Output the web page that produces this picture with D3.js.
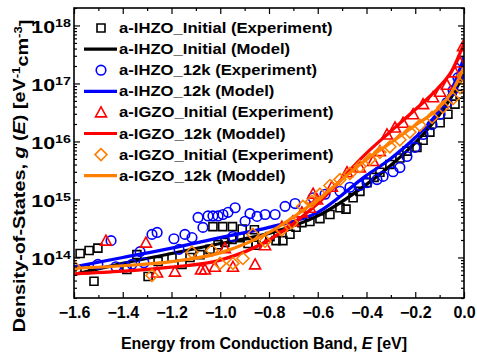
<!DOCTYPE html>
<html>
<head>
<meta charset="utf-8">
<script src="https://cdn.jsdelivr.net/npm/d3@7"></script>
<style>
  body { margin: 0; background: #fff; }
  svg { font-family: "Liberation Sans", Arial, sans-serif; font-weight: bold; }
</style>
</head>
<body>
<svg id="Chart"></svg>
<script>
// experimental points [E (eV), g (eV^-1 cm^-3)]
let ihzoInitialExp = [
  [-1.575,1.17e14],[-1.538,1.32e14],[-1.502,1.45e14],[-1.555,6.2e13],[-1.518,3.9e13],
  [-1.383,6.2e13],[-1.342,1.12e14],[-1.296,4.7e13],[-1.255,8.5e13],[-1.198,1.0e14],
  [-1.157,7.6e13],[-1.124,1.0e14],[-1.083,1.12e14],[-1.042,1.38e14],[-1.009,1.66e14],
  [-1.03,3.4e14],[-0.99,3.4e14],[-0.95,3.4e14],[-0.91,3.1e14],[-0.86,3.0e14],
  [-0.981,1.82e14],[-0.952,2.04e14],[-0.919,2.19e14],[-0.886,1.74e14],[-0.853,1.62e14],
  [-0.829,2.04e14],[-0.796,2.29e14],[-0.771,1.95e14],[-0.743,1.95e14],[-0.714,2.51e14],
  [-0.689,3.31e14],[-0.665,3.98e14],[-0.632,4.17e14],[-0.591,4.68e14],[-0.550,5.5e14],
  [-0.509,7.2e14],[-0.484,6.8e14],[-0.455,1.07e15],[-0.427,1.38e15],[-0.398,1.95e15],
  [-0.369,2.4e15],[-0.345,2.95e15],[-0.304,4.0e15],[-0.263,5.2e15],[-0.234,6.8e15],
  [-0.193,7.9e15],[-0.168,1.05e16],[-0.140,1.45e16],[-0.098,2.1e16],[-0.066,2.95e16],
  [-0.037,4.4e16],[-0.016,6.5e16]
]
let ihzo12kExp = [
  [-1.502,7.6e13],[-1.448,1.95e14],[-1.428,6.9e13],[-1.387,6.9e13],[-1.362,7.6e13],
  [-1.329,1.26e14],[-1.313,8.1e13],[-1.280,2.5e14],[-1.259,2.7e14],[-1.190,2.1e14],
  [-1.169,1.38e14],[-1.145,2.5e14],[-1.116,2.2e14],[-1.091,4.9e14],[-1.071,3.3e14],
  [-1.050,5.2e14],[-1.030,5.2e14],[-1.009,5.2e14],[-0.989,5.5e14],[-0.968,6.0e14],
  [-0.939,7.2e14],[-0.948,2.3e14],[-0.898,4.2e14],[-0.878,5.7e14],[-0.849,5.1e14],
  [-0.816,5.5e14],[-0.775,5.5e14],[-0.734,7.6e14],[-0.693,8.5e14],[-0.619,1.07e15],
  [-0.570,1.23e15],[-0.509,1.38e15],[-0.468,1.62e15],[-0.427,1.74e15],[-0.398,1.95e15],
  [-0.357,2.2e15],[-0.332,2.5e15],[-0.291,3.0e15],[-0.263,3.55e15],[-0.234,5.5e15],
  [-0.201,7.9e15],[-0.168,1.32e16],[-0.131,1.95e16],[-0.098,2.95e16],[-0.070,4.7e16],
  [-0.045,7.6e16],[-0.025,1.26e17],[-0.008,2.4e17]
]
let igzoInitialExp = [
  [-1.469,1.95e14],[-1.305,1.8e14],[-1.259,5.5e13],[-1.186,5.7e13],[-1.079,6.2e13],
  [-1.063,6.2e13],[-1.022,6.9e13],[-0.981,1.45e14],[-0.948,6.9e13],[-0.857,7.6e13],
  [-0.816,1.62e14],[-0.747,3.4e14],[-0.702,4.2e14],[-0.665,6.0e14],[-0.632,7.2e14],
  [-0.603,1.0e15],[-0.619,1.26e15],[-0.542,1.66e15],[-0.480,2.95e15],[-0.427,3.55e15],
  [-0.373,4.6e15],[-0.345,6.8e15],[-0.316,1.32e16],[-0.283,1.74e16],[-0.250,2.1e16],
  [-0.209,2.95e16],[-0.168,4.4e16],[-0.127,5.8e16],[-0.098,7.2e16],[-0.070,9.5e16],
  [-0.037,1.55e17],[-0.016,2.3e17],[-0.004,4.4e17]
]
let igzo12kExp = [
  [-1.600,6.9e13],[-1.280,4.9e13],[-1.116,1.23e14],[-1.034,1.32e14],[-1.001,7.9e13],
  [-0.948,7.9e13],[-0.907,9.6e13],[-0.866,2.5e14],[-0.816,1.9e14],[-0.747,3.0e14],
  [-0.706,4.0e14],[-0.661,7.6e14],[-0.624,9.3e14],[-0.591,1.23e15],[-0.550,1.74e15],
  [-0.509,2.2e15],[-0.468,2.8e15],[-0.427,3.7e15],[-0.386,4.9e15],[-0.345,6.5e15],
  [-0.304,8.1e15],[-0.263,1.07e16],[-0.222,1.45e16],[-0.181,1.9e16],[-0.131,2.6e16],
  [-0.086,3.9e16],[-0.045,5.5e16],[-0.016,8.5e16],[-0.004,1.38e17]
]

// model curves, sampled at modelE
let modelE = [-1.6, -1.4, -1.2, -1.0, -0.8, -0.6, -0.4, -0.3, -0.2, -0.1, -0.05, 0]
let ihzoInitialModel = [5.1e13, 7.9e13, 1.17e14, 1.74e14, 2.6e14, 5.2e14, 1.82e15, 3.9e15, 9.5e15, 2.95e16, 6.0e16, 1.45e17]
let ihzo12kModel = [6.9e13, 1.0e14, 1.45e14, 2.2e14, 3.3e14, 6.0e14, 2.6e15, 5.1e15, 1.17e16, 3.5e16, 7.9e16, 2.8e17]
let igzo12kModelRed = [5.2e13, 5.8e13, 6.8e13, 9.0e13, 2.0e14, 8.5e14, 6.3e15, 1.5e16, 3.55e16, 8.9e16, 1.66e17, 4.9e17]
let igzo12kModelOrange = [6.5e13, 7.2e13, 8.5e13, 1.2e14, 2.7e14, 1.0e15, 4.9e15, 9.5e15, 1.9e16, 3.9e16, 7.2e16, 1.9e17]

let xTicks = [-1.6, -1.4, -1.2, -1.0, -0.8, -0.6, -0.4, -0.2, 0.0]
let yTicks = [1e14, 1e15, 1e16, 1e17, 1e18]

let legendLabels = [
  "a-IHZO_Initial (Experiment)", "a-IHZO_Initial (Model)",
  "a-IHZO_12k (Experiment)", "a-IHZO_12k (Model)",
  "a-IGZO_Initial (Experiment)", "a-IGZO_12k (Moddel)",
  "a-IGZO_Initial (Experiment)", "a-IGZO_12k (Moddel)"
]

let colors = { black: "#000000", blue: "#0000ff", red: "#ff0000", orange: "#ff7f00" }

function getChartConfig(){
  let width = 477
  let height = 356
  let margin = { top: 8, bottom: 58, left: 74, right: 13 }
  let bodyWidth = width - margin.left - margin.right
  let bodyHeight = height - margin.top - margin.bottom
  let container = d3.select("#Chart").attr("width", width).attr("height", height)
  return { width, height, margin, bodyWidth, bodyHeight, container }
}

function getScales(config){
  let { bodyWidth, bodyHeight } = config
  let xScale = d3.scaleLinear().domain([-1.6, 0]).range([0, bodyWidth])
  let yScale = d3.scaleLog().domain([2e13, 2e18]).range([bodyHeight, 0])
  return { xScale, yScale }
}

function drawAxes(scales, config){
  let { xScale, yScale } = scales
  let { container, margin, bodyWidth, bodyHeight } = config
  let body = container.append("g").attr("transform", `translate(${margin.left},${margin.top})`)

  let xMinor = d3.range(-1.5, 0, 0.2).map(d => +d.toFixed(1))
  let yMinor = []
  for (let e = 13; e <= 18; e++) for (let m = 2; m <= 9; m++) {
    let v = m * Math.pow(10, e)
    if (v >= 2e13 && v <= 2e18) yMinor.push(v)
  }

  let styleAxis = g => {
    g.select(".domain").remove()
    g.selectAll("line").attr("stroke", "#000").attr("stroke-width", 1.2)
    g.selectAll("text").attr("fill", "#000").style("font-weight", "bold")
  }

  // bottom
  body.append("g").attr("transform", `translate(0,${bodyHeight})`)
    .call(d3.axisBottom(xScale).tickValues(xTicks).tickSizeInner(-6).tickSizeOuter(0).tickPadding(9)
      .tickFormat(d3.format(".1f")))
    .call(styleAxis)
    .selectAll("text").style("font-size", "16px")
  body.append("g").attr("transform", `translate(0,${bodyHeight})`)
    .call(d3.axisBottom(xScale).tickValues(xMinor).tickSizeInner(-3).tickSizeOuter(0).tickFormat(""))
    .call(styleAxis)
  // top
  body.append("g").call(d3.axisTop(xScale).tickValues(xTicks).tickSizeInner(-6).tickSizeOuter(0).tickFormat(""))
    .call(styleAxis)
  body.append("g").call(d3.axisTop(xScale).tickValues(xMinor).tickSizeInner(-3).tickSizeOuter(0).tickFormat(""))
    .call(styleAxis)

  // left
  let yAxis = body.append("g")
    .call(d3.axisLeft(yScale).tickValues(yTicks).tickSizeInner(-6).tickSizeOuter(0).tickFormat(""))
    .call(styleAxis)
  yAxis.selectAll(".tick text").each(function(d){
    let t = d3.select(this).attr("x", 0).attr("transform", "translate(-3,0) scale(1.3,1)")
      .style("font-size", "16.5px").attr("dy", "0.45em")
    t.append("tspan").text("10")
    t.append("tspan").attr("dy", "-0.55em").style("font-size", "11px").text(Math.round(Math.log10(d)))
  })
  body.append("g").call(d3.axisLeft(yScale).tickValues(yMinor).tickSizeInner(-3).tickSizeOuter(0).tickFormat(""))
    .call(styleAxis)
  // right
  body.append("g").attr("transform", `translate(${bodyWidth},0)`)
    .call(d3.axisRight(yScale).tickValues(yTicks).tickSizeInner(-6).tickSizeOuter(0).tickFormat(""))
    .call(styleAxis)
  body.append("g").attr("transform", `translate(${bodyWidth},0)`)
    .call(d3.axisRight(yScale).tickValues(yMinor).tickSizeInner(-3).tickSizeOuter(0).tickFormat(""))
    .call(styleAxis)

  body.append("rect").attr("width", bodyWidth).attr("height", bodyHeight)
    .attr("fill", "none").attr("stroke", "#000").attr("stroke-width", 1.6)

  // axis titles
  let xt = container.append("text")
    .attr("x", 264).attr("y", 349)
    .attr("text-anchor", "middle").style("font-size", "16px")
  xt.append("tspan").text("Energy from Conduction Band, ")
  xt.append("tspan").style("font-style", "italic").text("E")
  xt.append("tspan").text(" [eV]")

  let yt = container.append("text")
    .attr("transform", `translate(25,176) rotate(-90) scale(1.2,1)`)
    .attr("text-anchor", "middle").style("font-size", "16.5px")
  yt.append("tspan").text("Density-of-States, ")
  yt.append("tspan").style("font-style", "italic").text("g")
  yt.append("tspan").text(" (")
  yt.append("tspan").style("font-style", "italic").text("E")
  yt.append("tspan").text(") [eV")
  yt.append("tspan").attr("dy", "-0.5em").style("font-size", "11px").text("-1")
  yt.append("tspan").attr("dy", "0.5em").text("cm")
  yt.append("tspan").attr("dy", "-0.5em").style("font-size", "11px").text("-3")
  yt.append("tspan").attr("dy", "0.5em").text("]")
}

function markerPath(type){
  if (type === "square") return "M-4,-4H4V4H-4Z"
  if (type === "circle") return d3.symbol(d3.symbolCircle, 72)()
  if (type === "triangle") return "M0,-5.5L5.5,4.5H-5.5Z"
  return "M0,-6L6,0L0,6L-6,0Z"
}

function drawPoints(body, data, type, color, scales){
  let { xScale, yScale } = scales
  body.append("g").selectAll("path").data(data).enter().append("path")
    .attr("d", markerPath(type))
    .attr("transform", d => `translate(${xScale(d[0])},${yScale(d[1])})`)
    .attr("fill", "none").attr("stroke", color).attr("stroke-width", 1.6)
}

function drawModel(body, values, color, scales){
  let { xScale, yScale } = scales
  let line = d3.line().x((d, i) => xScale(modelE[i])).y(d => yScale(d)).curve(d3.curveMonotoneX)
  body.append("path").datum(values).attr("d", line)
    .attr("fill", "none").attr("stroke", color).attr("stroke-width", 3.2)
}

function drawSeries(scales, config){
  let { container, margin, bodyWidth, bodyHeight } = config
  container.append("clipPath").attr("id", "plotClip")
    .append("rect").attr("width", bodyWidth).attr("height", bodyHeight)
  let body = container.append("g")
    .attr("transform", `translate(${margin.left},${margin.top})`)
    .attr("clip-path", "url(#plotClip)")

  drawPoints(body, ihzoInitialExp, "square", colors.black, scales)
  drawModel(body, ihzoInitialModel, colors.black, scales)
  drawPoints(body, ihzo12kExp, "circle", colors.blue, scales)
  drawModel(body, ihzo12kModel, colors.blue, scales)
  drawPoints(body, igzoInitialExp, "triangle", colors.red, scales)
  drawModel(body, igzo12kModelRed, colors.red, scales)
  drawPoints(body, igzo12kExp, "diamond", colors.orange, scales)
  drawModel(body, igzo12kModelOrange, colors.orange, scales)
}

function drawLegend(config){
  let { container } = config
  let items = [
    ["square", colors.black], ["line", colors.black],
    ["circle", colors.blue], ["line", colors.blue],
    ["triangle", colors.red], ["line", colors.red],
    ["diamond", colors.orange], ["line", colors.orange]
  ]
  let g = container.append("g")
  items.forEach((it, i) => {
    let y = 28 + i * 21.1
    if (it[0] === "line") {
      g.append("line").attr("x1", 84).attr("x2", 117).attr("y1", y).attr("y2", y)
        .attr("stroke", it[1]).attr("stroke-width", 3.2)
    } else {
      g.append("path").attr("d", markerPath(it[0]))
        .attr("transform", `translate(101,${y})`)
        .attr("fill", "none").attr("stroke", it[1]).attr("stroke-width", 1.6)
    }
    g.append("text").attr("transform", `translate(119,${y}) scale(1.19,1)`).attr("dy", "0.36em")
      .style("font-size", "14px").text(legendLabels[i])
  })
}

function showChart(){
  let config = getChartConfig()
  let scales = getScales(config)
  drawSeries(scales, config)
  drawAxes(scales, config)
  drawLegend(config)
}
showChart()
</script>
</body>
</html>
